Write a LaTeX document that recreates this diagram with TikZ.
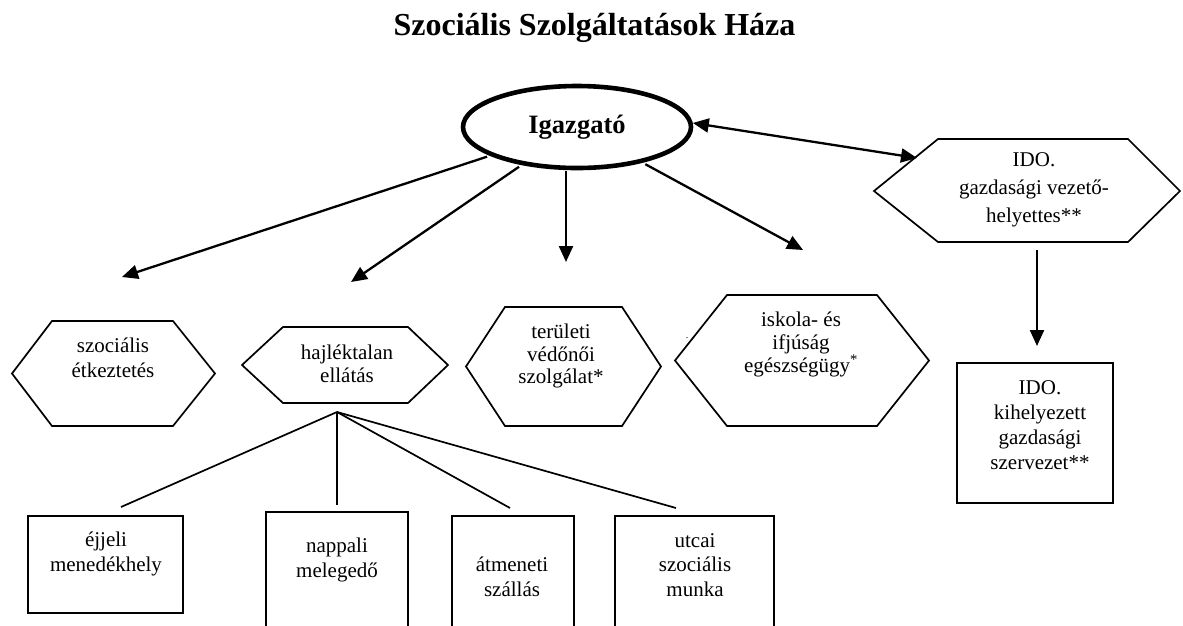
\documentclass[tikz,border=0pt]{standalone}
\usepackage{fontspec}
\setmainfont{Liberation Serif}
\usetikzlibrary{shapes.geometric,arrows.meta}

\begin{document}
\begin{tikzpicture}[x=1pt,y=-1pt,
    felirat/.style={align=center,inner sep=0pt,font=\fontsize{21}{24.5}\selectfont},
    hatszog/.style={draw=black,line width=1.7pt},
    doboz/.style={draw=black,line width=1.9pt},
    vonal/.style={draw=black,line width=1.7pt},
    nyil/.style={draw=black,line width=2.3pt,-{Triangle[length=16pt,width=14pt]}},
    nyil2/.style={draw=black,line width=2.3pt,{Triangle[length=16pt,width=14pt]}-{Triangle[length=16pt,width=14pt]}}
  ]
    \clip (0,0) rectangle (1183,625);

    \node[anchor=base,font=\fontsize{32}{36}\selectfont\bfseries] (cim) at (594.5,35) {Szociális Szolgáltatások Háza};

    \node[ellipse,draw=black,line width=4.6pt,minimum width=228pt,minimum height=82pt,inner sep=0pt,
      font=\fontsize{26.5}{30}\selectfont\bfseries] (igaz) at (577,127) {Igazgató};

    % nyilak az igazgatotol
    \coordinate (c1) at (122,277);
    \coordinate (c2) at (351,282);
    \coordinate (c3) at (566,262);
    \coordinate (c4) at (803,250);
    \coordinate (c5) at (917,158);
    \draw[nyil,shorten <=3pt] (igaz) -- (c1);
    \draw[nyil,shorten <=3pt] (igaz) -- (c2);
    \draw[nyil,shorten <=1pt] (igaz.south -| c3) -- (c3);
    \draw[nyil,shorten <=3pt] (igaz) -- (c4);
    \draw[nyil2] (igaz.2) -- (c5);

    % hatszogek
    \draw[hatszog] (12,373.5) -- (52,321) -- (173,321) -- (215,373.5) -- (173,426) -- (52,426) -- cycle;
    \node[felirat,font=\fontsize{21}{25}\selectfont] (etkez) at (113,358) {szociális\\étkeztetés};

    \draw[hatszog] (242,365) -- (283,327) -- (408,327) -- (448,365) -- (408,403) -- (283,403) -- cycle;
    \node[felirat,font=\fontsize{21}{23}\selectfont] (hajlek) at (347,364) {hajléktalan\\ellátás};

    \draw[hatszog] (466,366.5) -- (505,307) -- (622,307) -- (661,366.5) -- (622,426) -- (505,426) -- cycle;
    \node[felirat,font=\fontsize{21}{22.5}\selectfont] (vedono) at (561,356) {területi\\védőnői\\szolgálat*};

    \draw[hatszog] (675,360.5) -- (727,295) -- (877,295) -- (929,360.5) -- (877,426) -- (727,426) -- cycle;
    \node[felirat,font=\fontsize{21}{23}\selectfont] (iskola) at (801,344) {iskola- és\\ifjúság\\egészségügy\textsuperscript{*}};
    \node[inner sep=0pt,font=\fontsize{10}{12}\selectfont] (pont) at (687,338) {.};

    \draw[hatszog] (874,191) -- (938,139) -- (1128,139) -- (1180,191) -- (1128,242) -- (938,242) -- cycle;
    \node[felirat,font=\fontsize{21}{28}\selectfont] (gazd) at (1034,190) {IDO.\\gazdasági vezető-\\helyettes**};

    % gazdasagi szervezet
    \coordinate (g1) at (1037,250);
    \coordinate (g2) at (1037,346);
    \draw[nyil] (g1) -- (g2);
    \draw[doboz] (957,363) rectangle (1113,503);
    \node[felirat,font=\fontsize{21}{25}\selectfont] (kihely) at (1040,425) {IDO.\\kihelyezett\\gazdasági\\szervezet**};

    % hajlektalan ellatas agai
    \coordinate (elag) at (337,412);
    \coordinate (v1) at (121,507);
    \coordinate (v2) at (337,505);
    \coordinate (v3) at (510,508);
    \coordinate (v4) at (676,508);
    \draw[vonal] (elag) -- (v1);
    \draw[vonal] (elag) -- (v2);
    \draw[vonal] (elag) -- (v3);
    \draw[vonal] (elag) -- (v4);

    \draw[doboz] (28,516) rectangle (183,613);
    \node[felirat] (ejjeli) at (106,554) {éjjeli\\menedékhely};
    \draw[doboz] (266,512) rectangle (408,640);
    \node[felirat] (nappali) at (337,560) {nappali\\melegedő};
    \draw[doboz] (452,516) rectangle (574,640);
    \node[felirat] (atmeneti) at (512,577) {átmeneti\\szállás};
    \draw[doboz] (615,516) rectangle (774,640);
    \node[felirat] (utcai) at (695,565) {utcai\\szociális\\munka};
\end{tikzpicture}
\end{document}
